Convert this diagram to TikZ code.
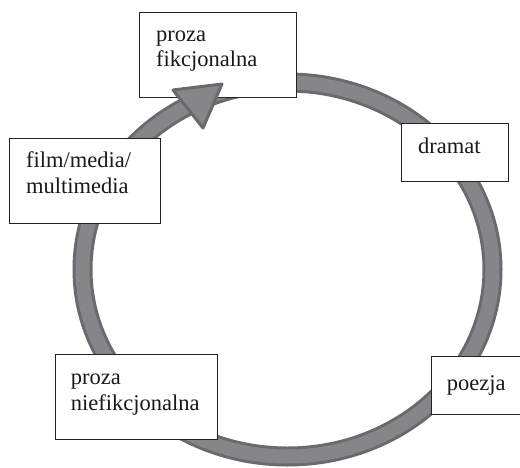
\documentclass[tikz,border=0pt]{standalone}
\usepackage{fontspec}
\setmainfont{Liberation Serif}
\definecolor{ringfill}{RGB}{134,134,138}
\definecolor{ringedge}{RGB}{106,106,110}
\definecolor{boxline}{RGB}{35,35,35}
\tikzset{
  box/.style={draw=boxline, line width=1.3pt, fill=white, rectangle, inner sep=0pt, anchor=north west},
  lbl/.style={inner sep=0pt, anchor=base west, align=left, text=black!90, font=\fontsize{22.5}{25.5}\selectfont},
}
\begin{document}
\begin{tikzpicture}[x=1pt,y=-1pt]
\useasboundingbox (0,0) rectangle (520,467);
% ring
\draw[ringedge, line width=20pt] (287.5,269.5) ellipse [x radius=205, y radius=187];
\draw[ringfill, line width=14pt] (287.5,269.5) ellipse [x radius=205, y radius=187];
% boxes
\node[box, minimum width=157pt, minimum height=85pt] (pf) at (139,12) {};
\node[box, minimum width=151pt, minimum height=85pt] (fm) at (9,138) {};
\node[box, minimum width=107pt, minimum height=58pt] (dr) at (401,123) {};
\node[box, minimum width=162pt, minimum height=85pt] (pn) at (55,354) {};
\node[box, minimum width=100pt, minimum height=58pt] (po) at (431,356) {};
% arrowhead
\draw[ringedge, fill=ringfill, line width=3pt, line join=round] (173,90) -- (222,84) -- (203,128) -- cycle;
% labels (anchor = baseline of last line)
\node[lbl] (pft) at (156,66.7) {proza\\fikcjonalna};
\node[lbl] (fmt) at (26,193.3) {film/media/\\multimedia};
\node[lbl] (drt) at (418,153.3) {dramat};
\node[lbl] (pnt) at (70.7,410) {proza\\niefikcjonalna};
\node[lbl] (pot) at (446.7,390) {poezja};
\end{tikzpicture}
\end{document}
